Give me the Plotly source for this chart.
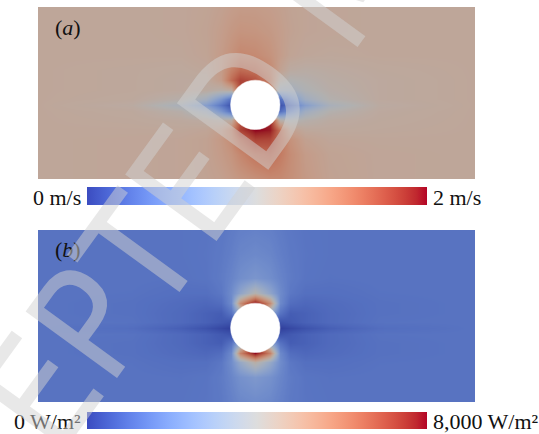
import plotly.graph_objects as go

# Grid positions in cylinder diameters, cylinder centred at the origin
X_POS = [-4.4, -2.5, -1.5, -1.0, -0.7, -0.5, -0.3, 0.0, 0.3, 0.5, 0.7, 1.0, 1.5, 2.5, 4.45]
Y_POS = [-1.5, -1.0, -0.7, -0.5, -0.3, -0.12, 0.0, 0.12, 0.3, 0.5, 0.7, 1.0, 1.5, 2.0]

# (a) velocity magnitude, m/s (rows follow Y_POS, columns follow X_POS)
SPEED = [
    [1.15, 1.16, 1.17, 1.19, 1.22, 1.26, 1.30, 1.35, 1.40, 1.40, 1.36, 1.28, 1.20, 1.16, 1.15],
    [1.15, 1.16, 1.17, 1.20, 1.26, 1.32, 1.42, 1.55, 1.60, 1.50, 1.38, 1.26, 1.19, 1.16, 1.15],
    [1.15, 1.16, 1.17, 1.20, 1.28, 1.38, 1.58, 1.80, 1.78, 1.55, 1.34, 1.21, 1.16, 1.15, 1.15],
    [1.15, 1.15, 1.15, 1.17, 1.24, 1.42, 1.80, 2.00, 1.95, 1.55, 1.22, 1.14, 1.13, 1.14, 1.15],
    [1.15, 1.14, 1.12, 1.10, 1.06, 1.10, 1.70, 2.00, 1.90, 1.05, 0.98, 1.04, 1.10, 1.13, 1.15],
    [1.15, 1.13, 1.05, 0.88, 0.58, 0.30, 0.30, 1.00, 0.30, 0.30, 0.55, 0.85, 1.02, 1.12, 1.15],
    [1.15, 1.10, 0.92, 0.65, 0.35, 0.12, 0.12, 0.50, 0.12, 0.12, 0.35, 0.65, 0.92, 1.10, 1.15],
    [1.15, 1.13, 1.05, 0.88, 0.58, 0.30, 0.30, 1.00, 0.30, 0.30, 0.55, 0.85, 1.02, 1.12, 1.15],
    [1.15, 1.14, 1.12, 1.10, 1.06, 1.10, 1.80, 1.75, 1.40, 0.88, 0.88, 0.98, 1.06, 1.12, 1.15],
    [1.15, 1.14, 1.12, 1.12, 1.25, 1.58, 1.80, 1.72, 1.45, 1.08, 1.00, 1.03, 1.08, 1.12, 1.15],
    [1.15, 1.14, 1.13, 1.15, 1.26, 1.46, 1.60, 1.55, 1.40, 1.20, 1.10, 1.08, 1.10, 1.13, 1.15],
    [1.15, 1.15, 1.15, 1.18, 1.26, 1.34, 1.42, 1.40, 1.33, 1.25, 1.18, 1.15, 1.14, 1.15, 1.15],
    [1.15, 1.15, 1.16, 1.19, 1.24, 1.29, 1.32, 1.31, 1.28, 1.24, 1.20, 1.17, 1.16, 1.15, 1.15],
    [1.15, 1.15, 1.16, 1.18, 1.21, 1.24, 1.26, 1.26, 1.24, 1.22, 1.19, 1.17, 1.16, 1.15, 1.15],
]

# (b) heat flux, W/m^2
FLUX = [
    [1300, 1300, 1300, 1350, 1450, 1650, 1850, 1950, 1850, 1650, 1450, 1350, 1300, 1300, 1300],
    [1300, 1300, 1280, 1330, 1500, 1800, 2150, 2400, 2150, 1800, 1500, 1330, 1280, 1300, 1300],
    [1300, 1280, 1200, 1200, 1400, 2000, 3100, 4300, 3100, 2000, 1400, 1200, 1200, 1280, 1300],
    [1300, 1250, 1100, 1000, 1150, 1900, 5800, 8000, 5800, 1900, 1150, 1000, 1100, 1250, 1300],
    [1300, 1250, 1050, 850, 750, 1300, 3000, 8000, 3000, 1300, 750, 850, 1050, 1250, 1300],
    [1300, 1280, 1050, 850, 650, 500, 500, 3000, 500, 500, 650, 850, 1050, 1280, 1300],
    [1300, 1150, 800, 500, 250, 80, 80, 1000, 80, 80, 250, 500, 800, 1150, 1300],
    [1300, 1280, 1050, 850, 650, 500, 500, 3000, 500, 500, 650, 850, 1050, 1280, 1300],
    [1300, 1250, 1050, 850, 750, 1300, 3000, 8000, 3000, 1300, 750, 850, 1050, 1250, 1300],
    [1300, 1250, 1100, 1000, 1150, 1900, 5500, 8000, 5500, 1900, 1150, 1000, 1100, 1250, 1300],
    [1300, 1280, 1200, 1200, 1400, 1950, 2900, 4100, 2900, 1950, 1400, 1200, 1200, 1280, 1300],
    [1300, 1300, 1280, 1330, 1500, 1750, 2050, 2300, 2050, 1750, 1500, 1330, 1280, 1300, 1300],
    [1300, 1300, 1300, 1350, 1450, 1600, 1800, 1900, 1800, 1600, 1450, 1350, 1300, 1300, 1300],
    [1300, 1300, 1300, 1330, 1400, 1500, 1620, 1680, 1620, 1500, 1400, 1330, 1300, 1300, 1300],
]

SPEED_RANGE = [0, 2]
FLUX_RANGE = [0, 8000]
SPEED_LABELS = ["0 m/s", "2 m/s"]
FLUX_LABELS = ["0 W/m²", "8,000 W/m²"]
PANEL_TAGS = ["(<i>a</i>)", "(<i>b</i>)"]

CYL_X, CYL_Y, CYL_R = 0.0, 0.0, 0.5
X_RANGE = [-4.40, 4.45]
Y_RANGE = [-1.50, 1.98]

# Moreland cool-to-warm diverging map
_CW = [
    (59, 76, 192), (68, 90, 204), (77, 104, 215), (87, 117, 225), (98, 130, 234),
    (108, 142, 241), (119, 154, 247), (130, 165, 251), (141, 176, 254), (152, 185, 255),
    (163, 194, 255), (174, 201, 253), (184, 208, 249), (194, 213, 244), (204, 217, 238),
    (213, 219, 230), (221, 221, 221), (229, 216, 209), (236, 211, 197), (241, 204, 185),
    (245, 196, 173), (247, 187, 160), (247, 177, 148), (247, 166, 135), (244, 154, 123),
    (241, 141, 111), (236, 127, 99), (229, 112, 88), (222, 96, 77), (213, 80, 66),
    (203, 62, 56), (192, 40, 47), (180, 4, 38),
]
COOLWARM = [[i / (len(_CW) - 1), "rgb(%d,%d,%d)" % c] for i, c in enumerate(_CW)]

W, H = 539, 434


def fx(p):
    return p / W


def fy(p):
    return 1 - p / H


SERIF = "Liberation Serif, Times New Roman, serif"


def bar(top, thick):
    return dict(orientation="h", x=fx(87), xanchor="left", y=fy(top), yanchor="top",
                len=340, lenmode="pixels", thickness=thick, thicknessmode="pixels",
                outlinewidth=0, showticklabels=False, ticks="", xpad=0, ypad=0)


fig = go.Figure()
fig.add_trace(go.Heatmap(
    x=X_POS, y=Y_POS, z=SPEED, zmin=SPEED_RANGE[0], zmax=SPEED_RANGE[1],
    colorscale=COOLWARM, zsmooth="best", opacity=0.8, hoverinfo="skip",
    xaxis="x", yaxis="y", colorbar=bar(187, 18)))
fig.add_trace(go.Heatmap(
    x=X_POS, y=Y_POS, z=FLUX, zmin=FLUX_RANGE[0], zmax=FLUX_RANGE[1],
    colorscale=COOLWARM, zsmooth="best", opacity=0.8, hoverinfo="skip",
    xaxis="x2", yaxis="y2", colorbar=bar(412, 17)))

axis = dict(visible=False, fixedrange=True)
fig.update_layout(
    width=W, height=H, margin=dict(l=0, r=0, t=0, b=0),
    paper_bgcolor="white", plot_bgcolor="black", showlegend=False,
    xaxis=dict(axis, domain=[fx(38), fx(475)], range=X_RANGE, anchor="y"),
    yaxis=dict(axis, domain=[fy(179), fy(7)], range=Y_RANGE, anchor="x"),
    xaxis2=dict(axis, domain=[fx(38), fx(475)], range=X_RANGE, anchor="y2"),
    yaxis2=dict(axis, domain=[fy(402), fy(230)], range=Y_RANGE, anchor="x2"),
)

# Cylinder cross-section in both panels
for xr, yr in (("x", "y"), ("x2", "y2")):
    fig.add_shape(type="circle", xref=xr, yref=yr,
                  x0=CYL_X - CYL_R, x1=CYL_X + CYL_R, y0=CYL_Y - CYL_R, y1=CYL_Y + CYL_R,
                  fillcolor="white", line=dict(color="white", width=0.5), layer="above")

txt = dict(family=SERIF, size=22, color="#111111")
notes = [
    dict(text=PANEL_TAGS[0], x=fx(53), y=fy(28), xanchor="left", yanchor="middle"),
    dict(text=PANEL_TAGS[1], x=fx(53), y=fy(250), xanchor="left", yanchor="middle"),
    dict(text=SPEED_LABELS[0], x=fx(83), y=fy(197), xanchor="right", yanchor="middle"),
    dict(text=SPEED_LABELS[1], x=fx(431), y=fy(197), xanchor="left", yanchor="middle"),
    dict(text=FLUX_LABELS[0], x=fx(83), y=fy(421), xanchor="right", yanchor="middle"),
    dict(text=FLUX_LABELS[1], x=fx(431), y=fy(421), xanchor="left", yanchor="middle"),
]
for n in notes:
    fig.add_annotation(xref="paper", yref="paper", showarrow=False, font=txt, **n)

# Diagonal manuscript watermark
fig.add_annotation(xref="paper", yref="paper", showarrow=False,
                   text="ACCEPTED MANUSCRIPT", textangle=-54,
                   x=fx(345), y=fy(-26), xanchor="center", yanchor="middle",
                   font=dict(family="Liberation Sans Narrow, DejaVu Sans Condensed, sans-serif",
                             size=155, color="rgba(210,210,210,0.5)"))

fig.write_html("out.html")
